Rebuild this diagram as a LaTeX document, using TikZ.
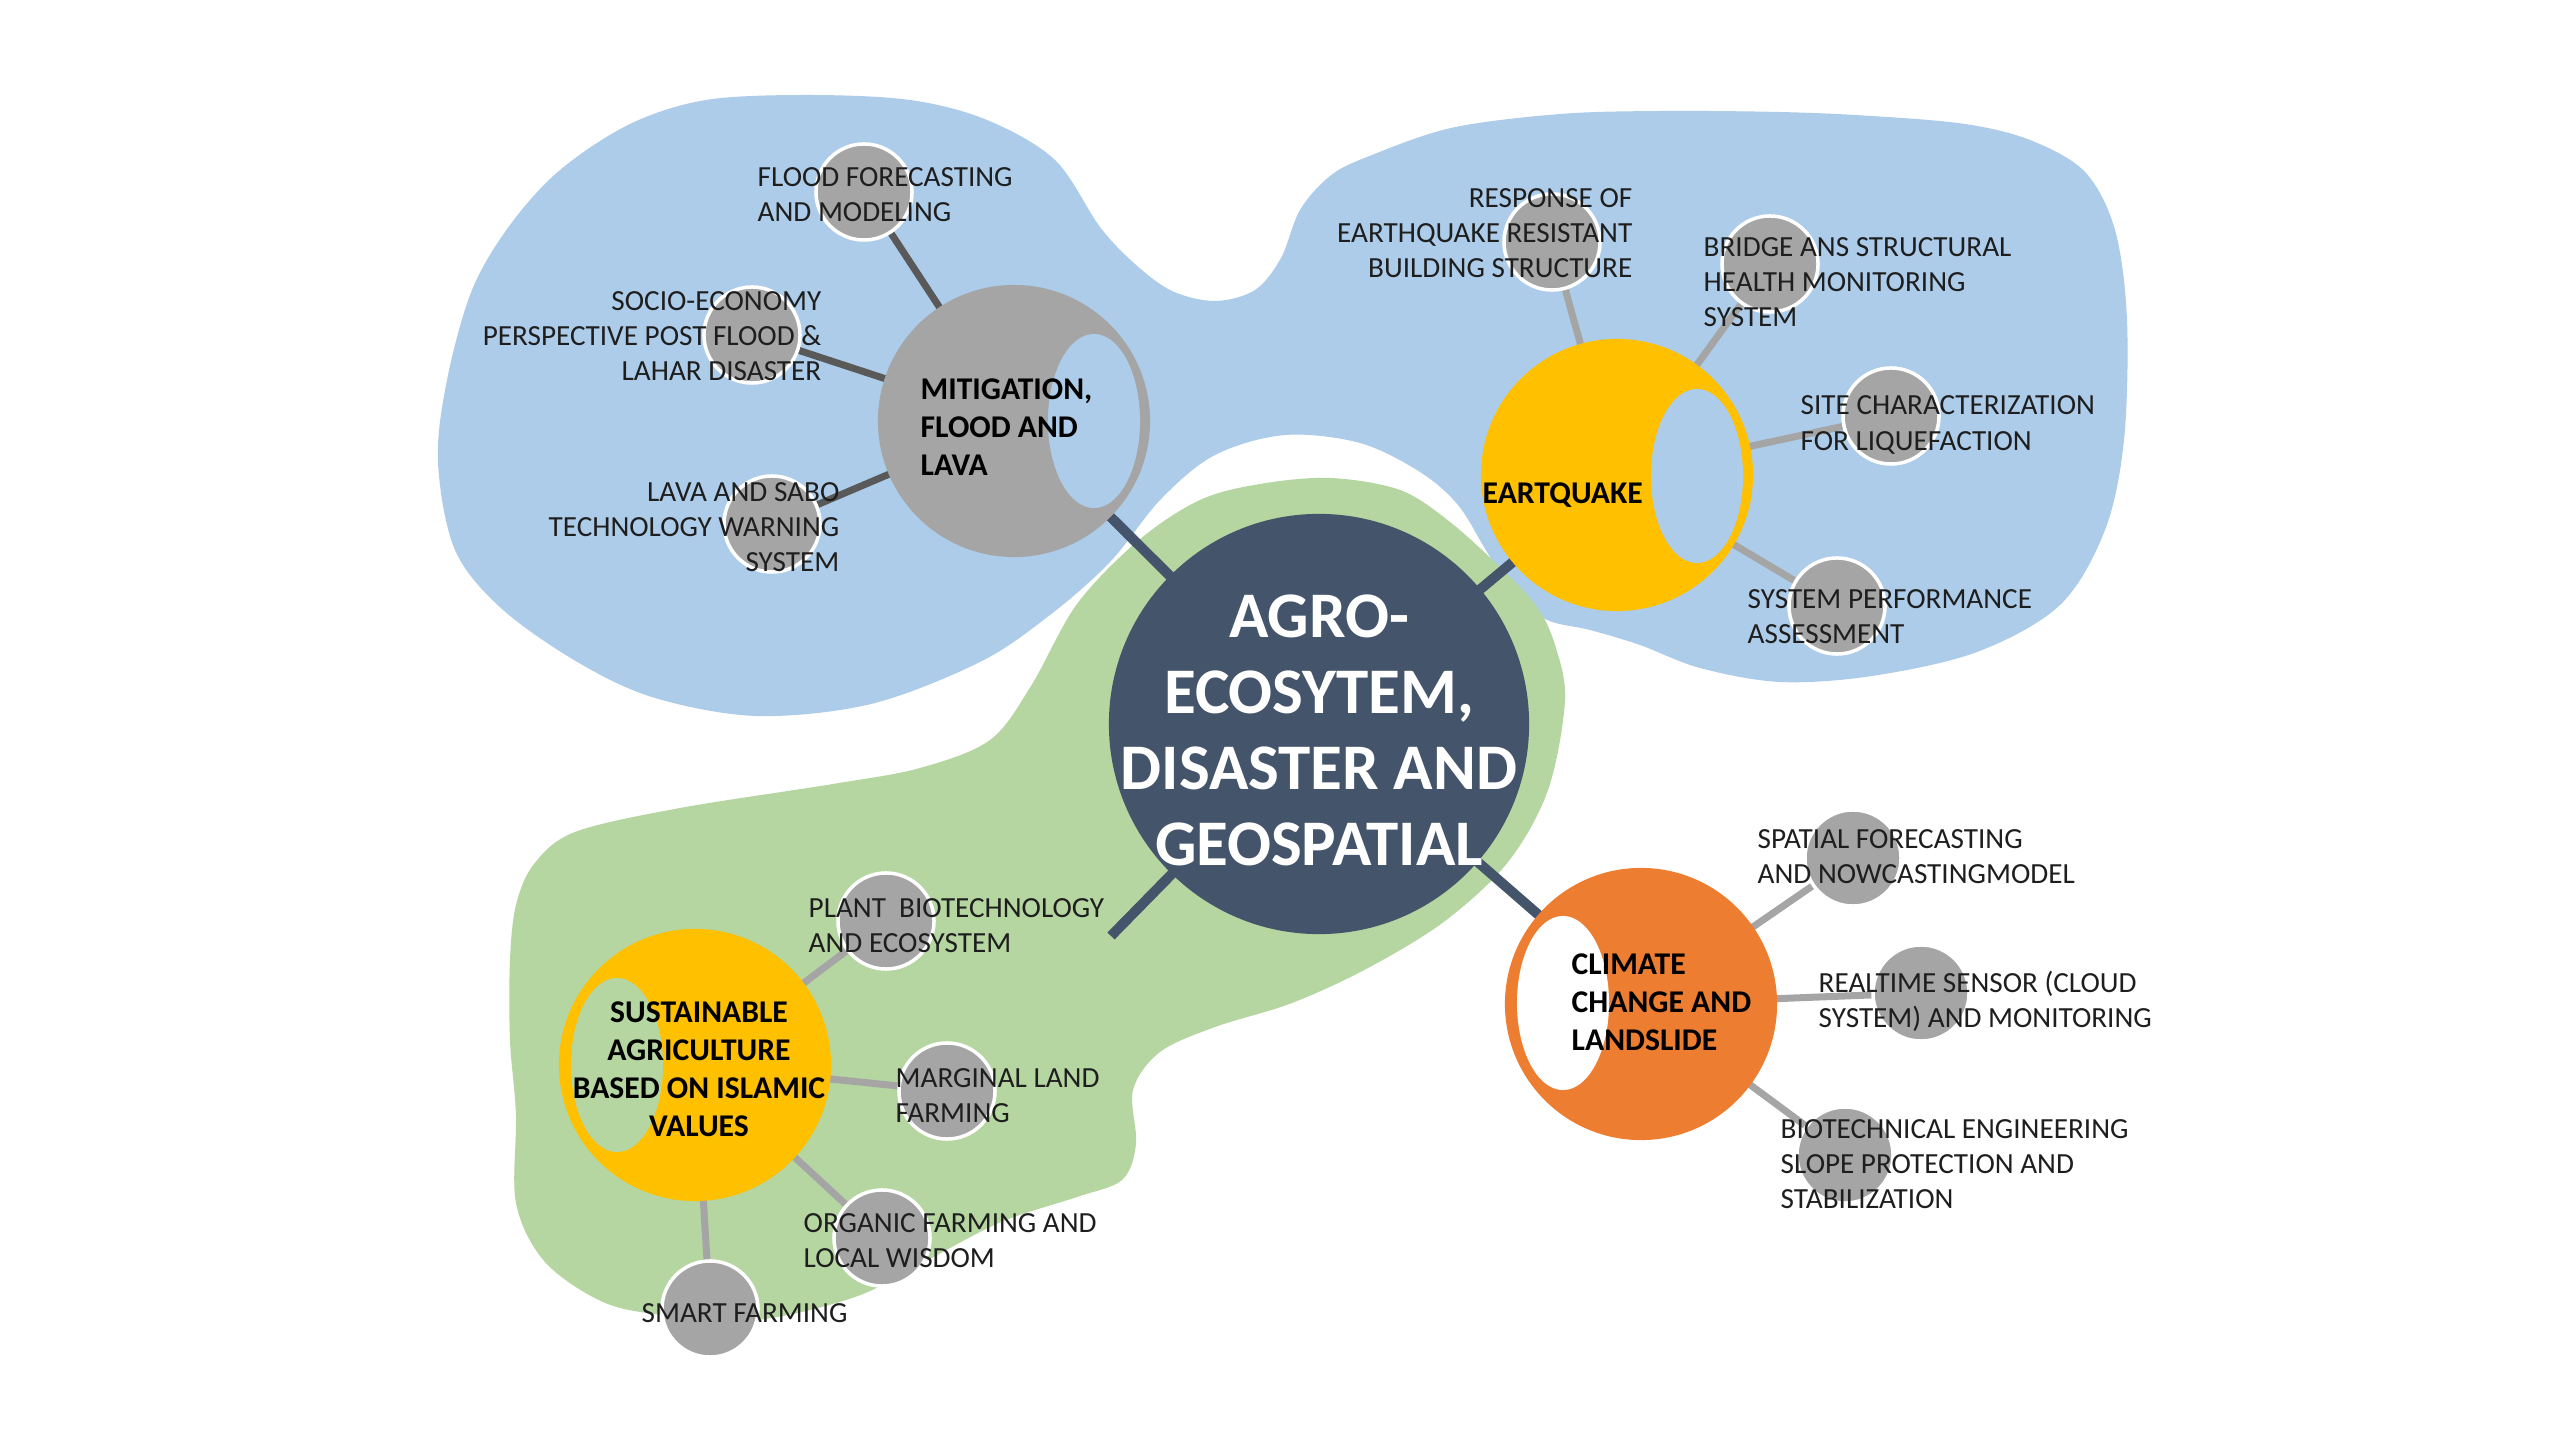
\documentclass[tikz,border=0pt]{standalone}
\usepackage{fontspec}
\setmainfont{Carlito}
\definecolor{blobblue}{HTML}{ADCCE9}
\definecolor{blobgreen}{HTML}{B5D5A1}
\definecolor{slate}{HTML}{44546A}
\definecolor{gold}{HTML}{FFC000}
\definecolor{orng}{HTML}{ED7D31}
\definecolor{grey}{HTML}{A5A5A5}
\definecolor{dgrey}{HTML}{595959}
\definecolor{ink}{HTML}{1E1E1E}
\pgfdeclarelayer{blobs}
\pgfdeclarelayer{links}
\pgfsetlayers{blobs,links,main}
\begin{document}
\begin{tikzpicture}[x=0.01cm,y=-0.01cm,
 hub/.style={circle, inner sep=0, minimum size=4.2cm, fill=slate},
 topic/.style={circle, inner sep=0, minimum size=2.72cm},
 leaf/.style={circle, inner sep=0, minimum size=0.96cm, fill=grey, draw=white, line width=0.035cm},
 lbl/.style={inner sep=0, text=ink, font=\fontsize{8.3}{10}\selectfont},
 tlbl/.style={inner sep=0, text=black, font=\fontsize{9}{10.8}\selectfont\bfseries},
 hublink/.style={draw=slate, line width=0.1cm},
 darklink/.style={draw=dgrey, line width=0.07cm},
 lightlink/.style={draw=grey, line width=0.07cm},
 hole/.style={x radius=0.46cm, y radius=0.87cm}
]
\useasboundingbox (0,0) rectangle (2560,1440);
\begin{pgfonlayer}{blobs}
\fill[white] (0,0) rectangle (2560,1440);
\fill[blobblue] plot[smooth cycle, tension=0.55] coordinates {
(438,462) (447,380) (472,290) (510,225) (560,170) (630,124) (706,100) (808,95) (910,100) (987,120) (1055,160) (1100,227) (1135,264) (1172,291) (1215,301) (1255,290) (1281,258) (1300,210) (1330,176) (1367,157) (1451,128) (1560,114) (1661,111) (1780,112) (1872,116) (1965,124) (2030,140) (2085,172) (2115,230) (2127,320) (2124,440) (2105,530) (2060,605) (1977,652) (1872,676) (1780,682) (1700,668) (1640,645) (1590,630) (1547,620) (1515,595) (1487,552) (1458,505) (1420,472) (1360,443) (1285,435) (1215,455) (1161,499) (1110,562) (1050,615) (980,662) (871,704) (757,716) (655,698) (579,663) (502,609) (455,550)};
\fill[blobgreen] plot[smooth cycle, tension=0.55] coordinates {
(1330,478) (1400,490) (1450,522) (1503,570) (1537,607) (1555,645) (1565,700) (1548,790) (1508,862) (1445,921) (1368,968) (1292,1003) (1215,1027) (1160,1052) (1133,1090) (1136,1144) (1122,1180) (1077,1197) (1001,1222) (924,1262) (855,1297) (756,1320) (664,1315) (603,1302) (545,1262) (516,1203) (516,1115) (510,1040) (510,960) (516,905) (534,864) (575,832) (680,808) (833,784) (920,768) (990,740) (1031,686) (1077,604) (1139,540) (1200,500) (1260,484)};
\end{pgfonlayer}

% main circles
\node[hub] (hub) at (1319,724) {};
\node[topic, fill=grey] (mit) at (1014,421) {};
\fill[blobblue] (1094,421) ellipse [hole];
\node[topic, fill=gold] (eq) at (1617,475) {};
\fill[blobblue] (1697,476) ellipse [hole];
\node[topic, fill=orng] (cc) at (1641,1004) {};
\fill[white] (1563,1003) ellipse [hole];
\node[topic, fill=gold] (sa) at (695,1065) {};
\fill[blobgreen] (617,1065) ellipse [hole];
\coordinate (swend) at (1111,936);

% leaves
\node[leaf] (l1) at (864,192) {};
\node[leaf] (l2) at (752,335) {};
\node[leaf] (l3) at (772,524) {};
\node[leaf] (l4) at (1552,242) {};
\node[leaf] (l5) at (1770,264) {};
\node[leaf] (l6) at (1891,416) {};
\node[leaf] (l7) at (1837,606) {};
\node[leaf] (l8) at (1853,858) {};
\node[leaf] (l9) at (1921,993) {};
\node[leaf] (l10) at (1845,1155) {};
\node[leaf] (l11) at (886,921) {};
\node[leaf] (l12) at (947,1091) {};
\node[leaf] (l13) at (882,1238) {};
\node[leaf] (l14) at (710,1309) {};

% labels
\node[tlbl, anchor=west, align=left] (tmit) at (920,427) {MITIGATION,\\FLOOD AND\\LAVA};
\node[tlbl, anchor=west] (teq) at (1482,495) {EARTQUAKE};
\node[tlbl, anchor=west, align=left] (tcc) at (1571,1002) {CLIMATE\\CHANGE AND\\LANDSLIDE};
\node[tlbl, align=center] (tsa) at (699,1069) {SUSTAINABLE\\AGRICULTURE\\BASED ON ISLAMIC\\VALUES};
\node[inner sep=0, text=white, font=\fontsize{18.5}{21.6}\selectfont\bfseries, align=center] (thub) at (1319,730) {AGRO-\\ECOSYTEM,\\DISASTER AND\\GEOSPATIAL};

\node[lbl, anchor=west, align=left] (t1) at (757,195) {FLOOD FORECASTING\\AND MODELING};
\node[lbl, anchor=east, align=right] (t2) at (822,336) {SOCIO-ECONOMY\\PERSPECTIVE POST FLOOD \&\\LAHAR DISASTER};
\node[lbl, anchor=east, align=right] (t3) at (840,527) {LAVA AND SABO\\TECHNOLOGY WARNING\\SYSTEM};
\node[lbl, anchor=east, align=right] (t4) at (1633,233) {RESPONSE OF\\EARTHQUAKE RESISTANT\\BUILDING STRUCTURE};
\node[lbl, anchor=west, align=left] (t5) at (1703,282) {BRIDGE ANS STRUCTURAL\\HEALTH MONITORING\\SYSTEM};
\node[lbl, anchor=west, align=left] (t6) at (1800,425) {SITE CHARACTERIZATION\\FOR LIQUEFACTION};
\node[lbl, anchor=west, align=left] (t7) at (1747,617) {SYSTEM PERFORMANCE\\ASSESSMENT};
\node[lbl, anchor=west, align=left] (t8) at (1757,857) {SPATIAL FORECASTING\\AND NOWCASTINGMODEL};
\node[lbl, anchor=west, align=left] (t9) at (1818,1001) {REALTIME SENSOR (CLOUD\\SYSTEM) AND MONITORING};
\node[lbl, anchor=west, align=left] (t10) at (1780,1164) {BIOTECHNICAL ENGINEERING\\SLOPE PROTECTION AND\\STABILIZATION};
\node[lbl, anchor=west, align=left] (t11) at (808,926) {PLANT\ \ BIOTECHNOLOGY\\AND ECOSYSTEM};
\node[lbl, anchor=west, align=left] (t12) at (895,1096) {MARGINAL LAND\\FARMING};
\node[lbl, anchor=west, align=left] (t13) at (803,1241) {ORGANIC FARMING AND\\LOCAL WISDOM};
\node[lbl, anchor=west] (t14) at (641,1313) {SMART FARMING};

\begin{pgfonlayer}{links}
\draw[hublink] (hub.center) -- (mit.center);
\draw[hublink] (hub.center) -- (eq.center);
\draw[hublink] (hub.center) -- (cc.center);
\draw[hublink] (hub.center) -- (swend);
\draw[darklink] (mit.center) -- (l1.center);
\draw[darklink] (mit.center) -- (l2.center);
\draw[darklink] (mit.center) -- (l3.center);
\draw[lightlink] (eq.center) -- (l4.center);
\draw[lightlink] (eq.center) -- (l5.center);
\draw[lightlink] (eq.center) -- (l6.center);
\draw[lightlink] (eq.center) -- (l7.center);
\draw[lightlink] (cc.center) -- (l8.center);
\draw[lightlink] (cc.center) -- (l9.center);
\draw[lightlink] (cc.center) -- (l10.center);
\draw[lightlink] (sa.center) -- (l11.center);
\draw[lightlink] (sa.center) -- (l12.center);
\draw[lightlink] (sa.center) -- (l13.center);
\draw[lightlink] (sa.center) -- (l14.center);
\end{pgfonlayer}
\end{tikzpicture}
\end{document}
